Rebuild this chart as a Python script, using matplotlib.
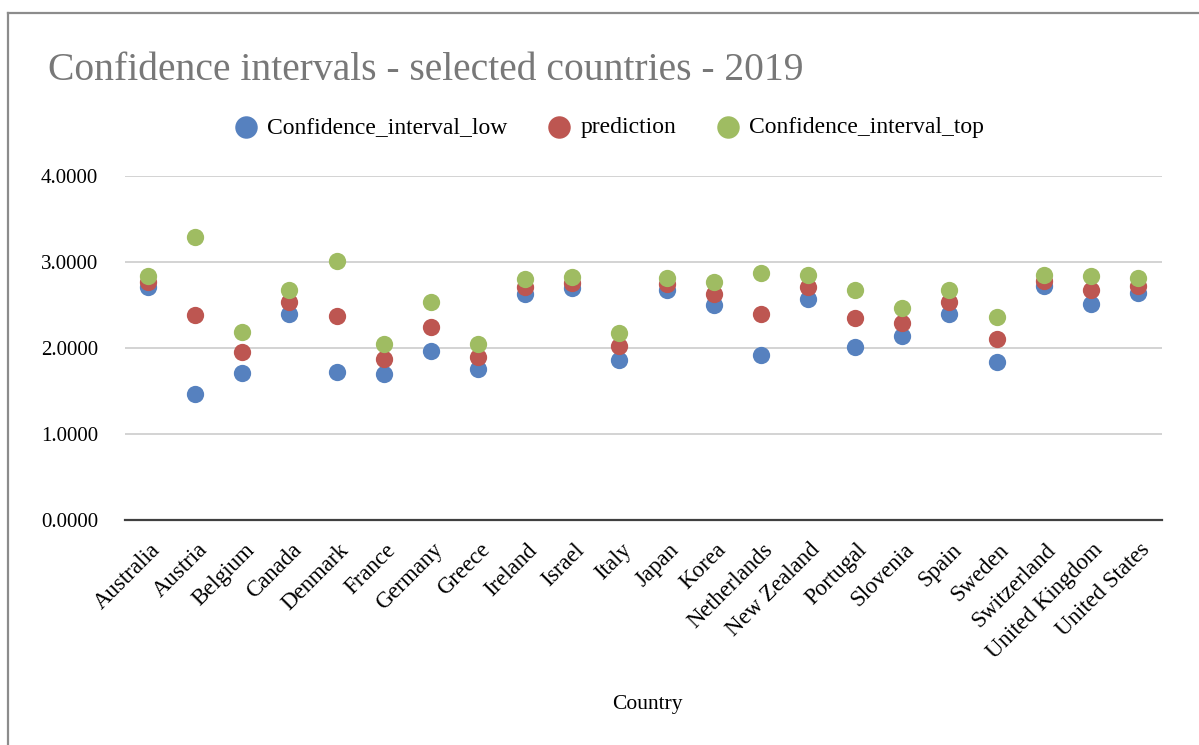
import numpy as np
import matplotlib
matplotlib.use("Agg")
import matplotlib.pyplot as plt
import matplotlib.transforms as mtransforms

countries = ["Australia", "Austria", "Belgium", "Canada", "Denmark", "France",
             "Germany", "Greece", "Ireland", "Israel", "Italy", "Japan", "Korea",
             "Netherlands", "New Zealand", "Portugal", "Slovenia", "Spain",
             "Sweden", "Switzerland", "United Kingdom", "United States"]

ci_low = [2.71, 1.47, 1.71, 2.40, 1.72, 1.70, 1.97, 1.76, 2.63, 2.70, 1.86,
          2.68, 2.50, 1.92, 2.57, 2.01, 2.14, 2.40, 1.84, 2.72, 2.51, 2.64]
prediction = [2.77, 2.38, 1.95, 2.53, 2.37, 1.87, 2.25, 1.90, 2.71, 2.76, 2.02,
              2.74, 2.63, 2.39, 2.71, 2.35, 2.29, 2.54, 2.10, 2.78, 2.67, 2.72]
ci_top = [2.84, 3.29, 2.19, 2.67, 3.01, 2.05, 2.53, 2.05, 2.80, 2.82, 2.18,
          2.81, 2.77, 2.87, 2.85, 2.68, 2.46, 2.68, 2.36, 2.85, 2.84, 2.81]

yticks = [0, 1, 2, 3, 4]

plt.rcParams['font.family'] = ['Liberation Serif', 'DejaVu Serif']

W, H = 1199, 745
fig = plt.figure(figsize=(W / 100, H / 100), dpi=100)

# outer chart frame (only left and top visible in the screenshot)
fig.add_artist(plt.Line2D([8 / W, 8 / W], [0, 1 - 13 / H], transform=fig.transFigure,
                          color='#8c8c8c', lw=1.6))
fig.add_artist(plt.Line2D([8 / W, 1], [1 - 13 / H, 1 - 13 / H], transform=fig.transFigure,
                          color='#8c8c8c', lw=1.6))

ax = fig.add_axes([124.5 / W, 1 - 520 / H, (1161.5 - 124.5) / W, (520 - 176) / H])

x = np.arange(len(countries))
blue, red, green = '#5681bf', '#bd5651', '#9fbc62'
s = 155
ax.scatter(x, ci_low, s=s, color=blue, label='Confidence_interval_low', zorder=3, linewidths=0)
ax.scatter(x, prediction, s=s, color=red, label='prediction', zorder=4, linewidths=0)
ax.scatter(x, ci_top, s=s, color=green, label='Confidence_interval_top', zorder=5, linewidths=0)

ax.set_xlim(-0.5, len(countries) - 0.5)
ax.set_ylim(0, 4)
ax.set_yticks(yticks)
ax.set_yticklabels([f"{v:.4f}" for v in yticks], fontsize=15)
ax.grid(axis='y', color='#d0d0d0', lw=1.3, zorder=0)
ax.set_axisbelow(True)
for sp in ['top', 'right', 'left']:
    ax.spines[sp].set_visible(False)
ax.spines['bottom'].set_color('#404040')
ax.spines['bottom'].set_linewidth(1.6)
ax.spines['bottom'].set_zorder(2)
ax.tick_params(axis='both', length=0)
ax.tick_params(axis='y', pad=19)

ax.set_xticks(x)
ax.set_xticklabels(countries, fontsize=16.5, rotation=45, ha='right', va='center',
                   rotation_mode='anchor')
offset = mtransforms.ScaledTranslation(9 / 100, -22 / 100, fig.dpi_scale_trans)
for lab in ax.get_xticklabels():
    lab.set_transform(lab.get_transform() + offset)

fig.text(647 / W, 1 - 704 / H, 'Country', fontsize=15.5, ha='center', va='center')

fig.text(48 / W, 1 - 71 / H, 'Confidence intervals - selected countries - 2019',
         fontsize=28.5, color='#787878', ha='left', va='center')

leg = fig.legend(loc='center', bbox_to_anchor=(608 / W, 1 - 127 / H), ncol=3,
                 frameon=False, fontsize=17, markerscale=1.3, handletextpad=0.3,
                 columnspacing=1.6, handlelength=1.2)

fig.savefig('out.png', dpi=100)
